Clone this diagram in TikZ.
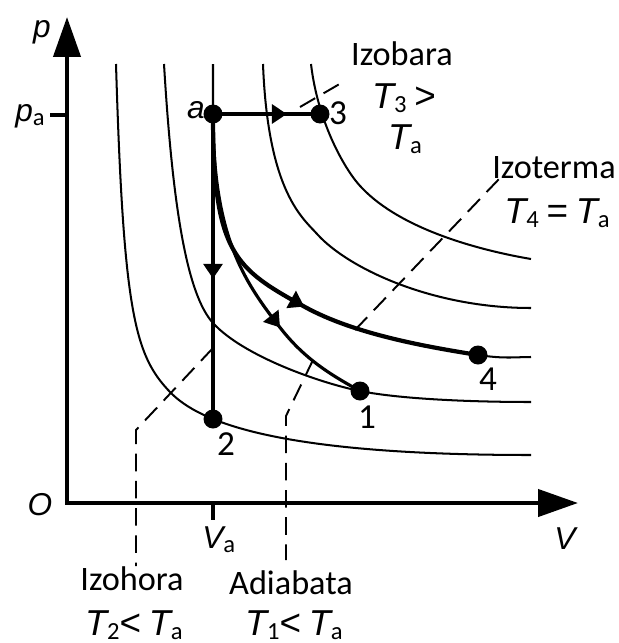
\documentclass[tikz,border=0pt]{standalone}
\usepackage{fontspec}
\setmainfont{Carlito}
\newfontfamily\lsans{Liberation Sans}
\usetikzlibrary{arrows.meta,decorations.markings}
\newcommand\myit[1]{{\lsans\itshape #1}}
\newcommand\mysub[1]{\raisebox{-2.5pt}{\fontsize{14}{14}\selectfont #1}}
\newcommand\TT[1]{{\fontsize{20.5}{22}\selectfont\myit{T}}\mysub{#1}}
\newcommand\myrel[1]{{\lsans\fontsize{21}{22}\selectfont #1}}
\begin{document}
\begin{tikzpicture}[x=0.02cm,y=-0.02cm,
  iso/.style={line width=1.15pt},
  proc/.style={line width=1.8pt},
  isoproc/.style={line width=2.4pt},
  axis/.style={line width=2.4pt},
  lead/.style={line width=1.1pt, dash pattern=on 10pt off 5.5pt},
  dot/.style={circle,fill,inner sep=0pt,minimum size=0.38cm},
  midarrow/.style={postaction={decorate},decoration={markings,
     mark=at position #1 with {\arrow{Triangle[length=8.5pt,width=10.8pt]}}}},
  axlab/.style={font=\fontsize{18}{20}\selectfont, inner sep=0pt, anchor=base},
  numlab/.style={font=\fontsize{20}{22}\selectfont, inner sep=0pt, anchor=base},
  words/.style={font=\fontsize{19.5}{22}\selectfont, inner sep=0pt, anchor=base},
]
\useasboundingbox (0,0) rectangle (619,643);

% key coordinates
\coordinate (O) at (67,503);
\coordinate (ytip) at (67,17);
\coordinate (xtip) at (578,503);
\coordinate (patick) at (50,115);
\coordinate (payaxis) at (67,115);
\coordinate (vatick) at (213,520);
\coordinate (vaxaxis) at (213,503);

% points
\node[dot] (a) at (213,114) {};
\node[dot] (p3) at (320,114) {};
\node[dot] (p2) at (213,419) {};
\node[dot] (p1) at (360,391) {};
\node[dot] (p4) at (478,355) {};

% axes
\draw[axis, line join=miter, {Triangle[length=0.8cm,width=0.54cm]}-{Triangle[length=0.8cm,width=0.54cm]}]
  (ytip) -- (O) -- (xtip);
\draw[line width=2.2pt] (patick) -- (payaxis);
\draw[line width=2pt] (vaxaxis) -- (vatick);

% isotherms (thin)
\draw[iso] (116,64) .. controls (123.5,314) and (135,355.6) .. (170,392)
  .. controls (200,423.2) and (281,455) .. (531,455);
\draw[iso] (164,64) .. controls (173,214) and (188,295.5) .. (213,323)
  .. controls (243,356) and (320,383) .. (p1.center)
  .. controls (400,399) and (470,402) .. (531,402);
\draw[iso] (213,64) -- (a.center) .. controls (213,254) and (235,268.5) .. (305,307)
  .. controls (355,334.5) and (428,347) .. (p4.center)
  .. controls (505,359) and (515,357) .. (531,357);
\draw[iso] (263,64) .. controls (268,194) and (303.6,218.6) .. (318,235)
  .. controls (348,267.7) and (431,308) .. (531,308);
\draw[iso] (311,64) .. controls (318,124) and (346.25,172.25) .. (362,188)
  .. controls (402,230) and (481,250.5) .. (531,259);

% processes
\draw[proc, midarrow=0.69] (a.center) -- (p3.center);
\draw[proc, midarrow=0.54] (a.center) -- (p2.center);
\draw[isoproc, midarrow=0.56] (a.center) .. controls (213,254) and (235,268.5) .. (305,307)
  .. controls (355,334.5) and (428,347) .. (p4.center);
\draw[proc, midarrow=0.69] (a.center) .. controls (213,234) and (242,279.6) .. (282,330)
  .. controls (307,361.5) and (335,377) .. (p1.center);

% leaders
\coordinate (lb1) at (300,107); \coordinate (lb2) at (343,82);
\coordinate (lt1) at (355,330); \coordinate (lt2) at (500,178);
\coordinate (lh1) at (213,348); \coordinate (lh2) at (136,430); \coordinate (lh3) at (136,566);
\coordinate (la1) at (313,360); \coordinate (la2) at (286,416); \coordinate (la3) at (286,560);
\draw[lead] (lb1) -- (lb2);
\draw[lead] (lt1) -- (lt2);
\draw[lead] (lh1) -- (lh2) -- (lh3);
\draw[lead] (la1) -- (la2) -- (la3);

% labels
\node[axlab] (plab) at (42,37) {\myit{p}};
\node[axlab, anchor=base east] (palab) at (45,121) {\myit{p}\mysub{a}};
\node[axlab] (Olab) at (40,515) {\myit{O}};
\node[axlab] (Vlab) at (565,549) {\myit{V}};
\node[axlab, anchor=base west] (Valab) at (202,548) {\myit{V}\mysub{a}};
\node[axlab] (alab) at (196,118) {\myit{a}};
\node[numlab] (l3) at (338,124) {3};
\node[numlab] (l1) at (367,428) {1};
\node[numlab] (l2) at (226,455) {2};
\node[numlab] (l4) at (488,390) {4};

\node[words] (tb1) at (402,65) {Izobara};
\node[words] (tb2) at (404,108) {\TT{3} \myrel{>}};
\node[words] (tb3) at (405,149) {\TT{a}};
\node[words] (tt1) at (554,178) {Izoterma};
\node[words] (tt2) at (557,223) {\TT{4} \myrel{=} \TT{a}};
\node[words] (th1) at (132,590) {Izohora};
\node[words] (th2) at (134,635) {\TT{2}\myrel{<} \TT{a}};
\node[words] (ta1) at (291,594) {Adiabata};
\node[words] (ta2) at (294,635) {\TT{1}\myrel{<} \TT{a}};
\end{tikzpicture}
\end{document}
